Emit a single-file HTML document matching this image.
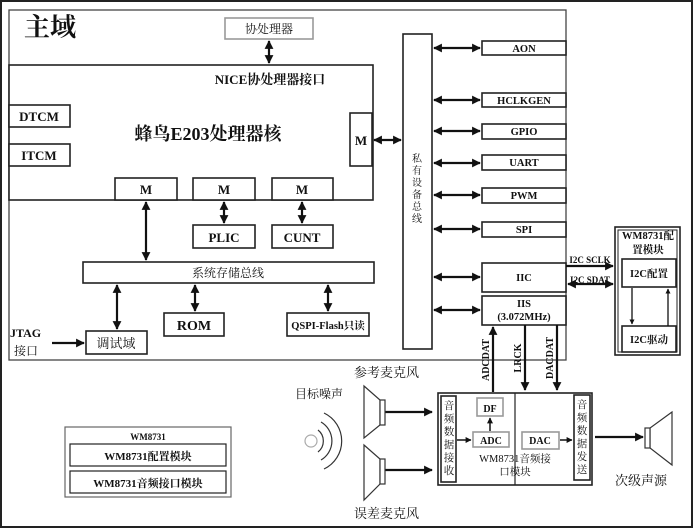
<!DOCTYPE html>
<html><head><meta charset="utf-8"><style>
html,body{margin:0;padding:0;background:#fff}
svg{display:block}
text{font-family:"Liberation Serif","Noto Serif CJK SC",serif;fill:#111}
.b{font-weight:bold}
</style></head><body>
<svg width="693" height="528" viewBox="0 0 693 528" xmlns="http://www.w3.org/2000/svg">
<defs>
<marker id="a" viewBox="0 0 10 10" refX="9" refY="5" markerWidth="4" markerHeight="4" orient="auto-start-reverse"><path d="M0,0L10,5L0,10z" fill="#111"/></marker>
</defs>
<rect x="1" y="1" width="691" height="526" fill="#fff" stroke="#222" stroke-width="2"/>
<g fill="#fff" stroke="#222" stroke-width="1.6">
<rect x="9" y="10" width="557" height="350" stroke="#444" stroke-width="1.3"/>
<rect x="225" y="18" width="88" height="21" stroke="#999"/>
<rect x="9" y="65" width="364" height="135"/>
<rect x="9" y="105" width="61" height="22"/>
<rect x="9" y="144" width="61" height="22"/>
<rect x="350" y="113" width="22" height="53"/>
<rect x="115" y="178" width="62" height="22"/>
<rect x="193" y="178" width="62" height="22"/>
<rect x="272" y="178" width="61" height="22"/>
<rect x="193" y="225" width="62" height="23"/>
<rect x="272" y="225" width="61" height="23"/>
<rect x="83" y="262" width="291" height="21"/>
<rect x="164" y="313" width="60" height="23"/>
<rect x="287" y="313" width="82" height="23"/>
<rect x="86" y="331" width="61" height="23"/>
<rect x="403" y="34" width="29" height="315"/>
<rect x="482" y="41" width="84" height="14"/>
<rect x="482" y="93" width="84" height="14"/>
<rect x="482" y="124" width="84" height="15"/>
<rect x="482" y="155" width="84" height="15"/>
<rect x="482" y="188" width="84" height="15"/>
<rect x="482" y="222" width="84" height="15"/>
<rect x="482" y="263" width="84" height="29"/>
<rect x="482" y="296" width="84" height="29"/>
<rect x="615" y="227" width="65" height="128"/>
<rect x="618" y="230" width="59" height="122" stroke-width="1"/>
<rect x="622" y="259" width="54" height="28"/>
<rect x="622" y="326" width="54" height="26"/>
<rect x="438" y="393" width="154" height="92"/>
<rect x="441" y="396" width="15" height="86"/>
<rect x="574" y="395" width="16" height="85"/>
<rect x="477" y="398" width="26" height="18" stroke="#999"/>
<rect x="473" y="432" width="36" height="15" stroke="#999"/>
<rect x="522" y="432" width="37" height="17" stroke="#999"/>
<rect x="65" y="427" width="166" height="70" stroke="#666" stroke-width="1.2"/>
<rect x="70" y="444" width="156" height="22" stroke-width="1.2"/>
<rect x="70" y="471" width="156" height="22" stroke-width="1.2"/>
</g>
<line x1="515" y1="393" x2="515" y2="485" stroke="#222" stroke-width="1.2"/>
<g stroke="#111" stroke-width="2.2" marker-end="url(#a)" marker-start="url(#a)" fill="none">
<line x1="269" y1="41" x2="269" y2="63"/>
<line x1="374" y1="140" x2="401" y2="140"/>
<line x1="146" y1="202" x2="146" y2="260"/>
<line x1="224" y1="202" x2="224" y2="223"/>
<line x1="302" y1="202" x2="302" y2="223"/>
<line x1="117" y1="285" x2="117" y2="329"/>
<line x1="195" y1="285" x2="195" y2="311"/>
<line x1="328" y1="285" x2="328" y2="311"/>
<line x1="434" y1="48" x2="480" y2="48"/>
<line x1="434" y1="100" x2="480" y2="100"/>
<line x1="434" y1="131" x2="480" y2="131"/>
<line x1="434" y1="163" x2="480" y2="163"/>
<line x1="434" y1="195" x2="480" y2="195"/>
<line x1="434" y1="229" x2="480" y2="229"/>
<line x1="434" y1="277" x2="480" y2="277"/>
<line x1="434" y1="310" x2="480" y2="310"/>
<line x1="568" y1="284" x2="613" y2="284"/>
</g>
<g stroke="#111" stroke-width="2.2" marker-end="url(#a)" fill="none">
<line x1="52" y1="343" x2="84" y2="343"/>
<line x1="566" y1="266" x2="613" y2="266"/>
<line x1="493" y1="392" x2="493" y2="327"/>
<line x1="525" y1="325" x2="525" y2="390"/>
<line x1="557" y1="325" x2="557" y2="390"/>
<line x1="385" y1="412" x2="432" y2="412"/>
<line x1="385" y1="470" x2="432" y2="470"/>
<line x1="595" y1="437" x2="643" y2="437"/>
<line x1="457" y1="440" x2="471" y2="440" stroke-width="1.5"/>
<line x1="490" y1="431" x2="490" y2="418" stroke-width="1.5"/>
<line x1="560" y1="440" x2="572" y2="440" stroke-width="1.5"/>
<line x1="632" y1="288" x2="632" y2="324" stroke-width="1.3"/>
<line x1="668" y1="326" x2="668" y2="289" stroke-width="1.3"/>
</g>
<g fill="#fff" stroke="#333" stroke-width="1.2">
<path d="M364,386L380,400L380,425L364,438Z"/><rect x="380" y="400" width="5" height="25"/>
<path d="M364,445L380,459L380,484L364,500Z"/><rect x="380" y="459" width="5" height="25"/>
<path d="M672,412L650,428L650,448L672,465Z"/><rect x="645" y="428" width="5" height="20"/>
</g>
<g fill="none" stroke="#333" stroke-width="1.2">
<circle cx="311" cy="441" r="6" stroke="#aaa"/>
<path d="M318,430A14,14 0 0 1 318,452"/><path d="M321,422A22,22 0 0 1 321,460"/><path d="M324,413A31,31 0 0 1 324,469"/>
</g>
<text x="24" y="36" font-size="26" class="b" font-family="Liberation Sans,Noto Sans CJK SC,sans-serif">主域</text>
<text x="269" y="33" font-size="12" text-anchor="middle">协处理器</text>
<text x="270" y="84" font-size="13" text-anchor="middle" class="b">NICE协处理器接口</text>
<text x="39" y="121" font-size="13" text-anchor="middle" class="b">DTCM</text>
<text x="39" y="160" font-size="13" text-anchor="middle" class="b">ITCM</text>
<text x="208" y="140" font-size="18" text-anchor="middle" class="b">蜂鸟E203处理器核</text>
<text x="361" y="145" font-size="13" text-anchor="middle" class="b">M</text>
<text x="146" y="194" font-size="13" text-anchor="middle" class="b">M</text>
<text x="224" y="194" font-size="13" text-anchor="middle" class="b">M</text>
<text x="302" y="194" font-size="13" text-anchor="middle" class="b">M</text>
<text x="224" y="242" font-size="13" text-anchor="middle" class="b">PLIC</text>
<text x="302" y="242" font-size="13" text-anchor="middle" class="b">CUNT</text>
<text x="228" y="277" font-size="12" text-anchor="middle">系统存储总线</text>
<text x="194" y="330" font-size="14" text-anchor="middle" class="b">ROM</text>
<text x="328" y="329" font-size="10.5" text-anchor="middle" class="b">QSPI-Flash只读</text>
<text x="116" y="348" font-size="13" text-anchor="middle">调试域</text>
<text x="10" y="337" font-size="12" class="b">JTAG</text>
<text x="14" y="355" font-size="12">接口</text>
<g font-size="10" text-anchor="middle"><text x="417" y="162">私</text><text x="417" y="174">有</text><text x="417" y="186">设</text><text x="417" y="198">备</text><text x="417" y="210">总</text><text x="417" y="222">线</text></g>
<g font-size="10.5" class="b" text-anchor="middle">
<text x="524" y="52">AON</text><text x="524" y="104">HCLKGEN</text><text x="524" y="135">GPIO</text><text x="524" y="166">UART</text><text x="524" y="199">PWM</text><text x="524" y="233">SPI</text><text x="524" y="281">IIC</text><text x="524" y="307">IIS</text><text x="524" y="320">(3.072MHz)</text>
<text x="648" y="239">WM8731配</text><text x="648" y="253">置模块</text><text x="649" y="277">I2C配置</text><text x="649" y="343">I2C驱动</text>
<text x="590" y="263" font-size="9">I2C SCLK</text><text x="590" y="283" font-size="9">I2C SDAT</text>
</g>
<g font-size="10" class="b" text-anchor="middle">
<text transform="translate(489,360) rotate(-90)">ADCDAT</text>
<text transform="translate(521,358) rotate(-90)">LRCK</text>
<text transform="translate(553,358) rotate(-90)">DACDAT</text>
<text x="490" y="412">DF</text><text x="491" y="444">ADC</text><text x="540" y="444">DAC</text>
</g>
<g font-size="10.5" text-anchor="middle"><text x="449" y="409">音</text><text x="449" y="422">频</text><text x="449" y="435">数</text><text x="449" y="448">据</text><text x="449" y="461">接</text><text x="449" y="474">收</text>
<text x="582" y="408">音</text><text x="582" y="421">频</text><text x="582" y="434">数</text><text x="582" y="447">据</text><text x="582" y="460">发</text><text x="582" y="473">送</text>
<text x="515" y="462">WM8731音频接</text><text x="515" y="475">口模块</text></g>
<text x="354" y="377" font-size="13">参考麦克风</text>
<text x="295" y="398" font-size="12">目标噪声</text>
<text x="354" y="518" font-size="13">误差麦克风</text>
<text x="615" y="485" font-size="13">次级声源</text>
<text x="148" y="440" font-size="9" class="b" text-anchor="middle">WM8731</text>
<text x="148" y="460" font-size="11" class="b" text-anchor="middle">WM8731配置模块</text>
<text x="148" y="487" font-size="11" class="b" text-anchor="middle">WM8731音频接口模块</text>
</svg>
</body></html>
